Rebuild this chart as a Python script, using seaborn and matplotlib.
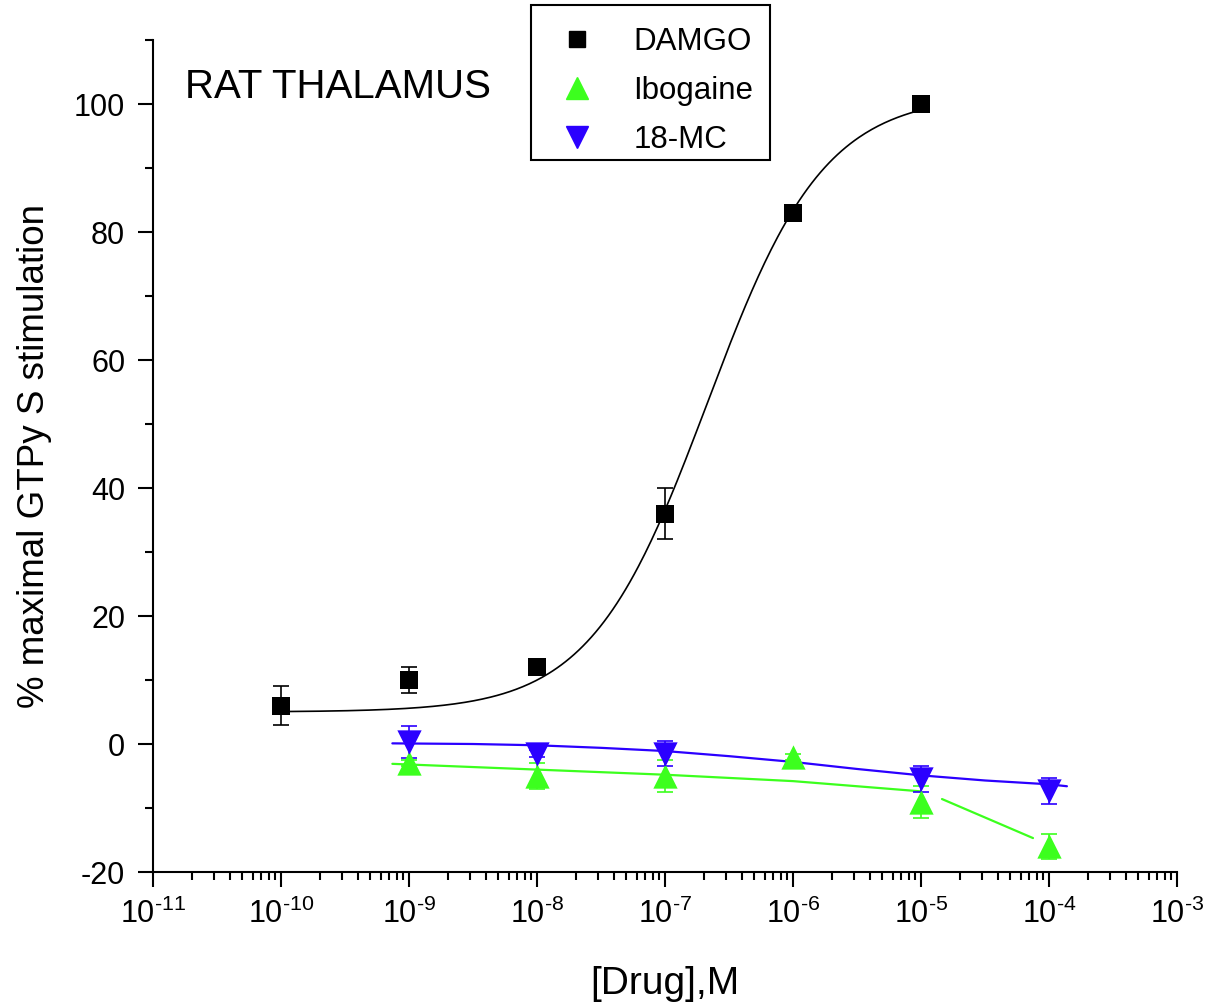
import numpy as np
import pandas as pd
import matplotlib
matplotlib.use("Agg")
import matplotlib.pyplot as plt
from matplotlib.lines import Line2D
from matplotlib.patches import Rectangle
from matplotlib.ticker import LogLocator, MultipleLocator, NullFormatter, FuncFormatter
import seaborn as sns

# data
damgo_x = [1e-10, 1e-9, 1e-8, 1e-7, 1e-6, 1e-5]
damgo_y = [6, 10, 12, 36, 83, 100]
damgo_err = [3, 2, 0.5, 4, 0.5, 0.5]

ibo_x = [1e-9, 1e-8, 1e-7, 1e-6, 1e-5, 1e-4]
ibo_y = [-3, -5, -5, -2, -9, -16]
ibo_err = [0.5, 2, 2.5, 0.5, 2.5, 2]

mc_x = [1e-9, 1e-8, 1e-7, 1e-5, 1e-4]
mc_y = [0.3, -1.5, -1.5, -5.5, -7.3]
mc_err = [2.5, 0.5, 2, 2, 2]

# DAMGO sigmoidal fit (bottom, top, logEC50, hill), drawn 1e-10 .. 1e-5
damgo_fit = dict(bottom=5.0, top=101.5, logec50=-6.67, hill=0.95)
damgo_fit_range = (-10, -5)

# 18-MC fit line (log10 conc, %)
mc_fit_logx = [-9.13, -8.5, -8.0, -7.5, -7.0, -6.5, -6.0, -5.5, -5.0, -4.5, -4.0, -3.86]
mc_fit_y = [0.1, 0.0, -0.2, -0.6, -1.1, -1.9, -2.8, -3.9, -4.9, -5.7, -6.3, -6.6]

# Ibogaine fit line + the extra connecting segment
ibo_fit_logx = [-9.13, -8.0, -7.0, -6.0, -5.5, -5.0]
ibo_fit_y = [-3.1, -4.0, -4.8, -5.8, -6.6, -7.4]
ibo_seg_logx = [-4.836, -4.125]
ibo_seg_y = [-8.6, -14.7]

labels = ["DAMGO", "Ibogaine", "18-MC"]
colors = {"DAMGO": "#000000", "Ibogaine": "#3CFF1E", "18-MC": "#2B00FF"}
markers = {"DAMGO": "s", "Ibogaine": "^", "18-MC": "v"}
msize = {"DAMGO": 13, "Ibogaine": 17.5, "18-MC": 17.5}

sns.set_theme(style="ticks")
plt.rcParams["font.family"] = ["Liberation Sans", "DejaVu Sans"]
plt.rcParams["mathtext.fontset"] = "custom"
plt.rcParams["mathtext.rm"] = "Liberation Sans"
plt.rcParams["mathtext.it"] = "Liberation Sans:italic"
plt.rcParams["axes.unicode_minus"] = False
plt.rcParams["text.color"] = "black"
plt.rcParams["axes.labelcolor"] = "black"

fig = plt.figure(figsize=(12.07, 10.05), dpi=100)
ax = fig.add_axes([153 / 1207, 1 - 872 / 1005, (1177 - 153) / 1207, (872 - 40) / 1005])

# fitted curves
xs = np.linspace(*damgo_fit_range, 300)
p = damgo_fit
ys = p["bottom"] + (p["top"] - p["bottom"]) / (1 + 10 ** ((p["logec50"] - xs) * p["hill"]))
fits = pd.concat([
    pd.DataFrame({"x": 10 ** xs, "y": ys, "drug": "DAMGO", "part": "a"}),
    pd.DataFrame({"x": 10 ** np.array(ibo_fit_logx), "y": ibo_fit_y, "drug": "Ibogaine", "part": "a"}),
    pd.DataFrame({"x": 10 ** np.array(ibo_seg_logx), "y": ibo_seg_y, "drug": "Ibogaine", "part": "b"}),
    pd.DataFrame({"x": 10 ** np.array(mc_fit_logx), "y": mc_fit_y, "drug": "18-MC", "part": "a"}),
])
for (drug, part), g in fits.groupby(["drug", "part"], sort=False):
    sns.lineplot(data=g, x="x", y="y", color=colors[drug], ax=ax,
                 lw=1.2 if drug == "DAMGO" else 1.6, sort=False, legend=False, zorder=2)

# points with error bars
pts = {
    "DAMGO": (damgo_x, damgo_y, damgo_err),
    "Ibogaine": (ibo_x, ibo_y, ibo_err),
    "18-MC": (mc_x, mc_y, mc_err),
}
for drug in ["DAMGO", "Ibogaine", "18-MC"]:
    x, y, e = pts[drug]
    ax.errorbar(x, y, yerr=e, fmt="none", ecolor=colors[drug], elinewidth=1.2,
                capsize=6, capthick=1.2, zorder=3)
    df = pd.DataFrame({"x": x, "y": y})
    sns.scatterplot(data=df, x="x", y="y", marker=markers[drug], color=colors[drug],
                    s=msize[drug] ** 2, linewidth=0, ax=ax, legend=False, zorder=4)

ax.set_xscale("log")
ax.set_xlim(1e-11, 1e-3)
ax.set_ylim(-20, 110)
ax.xaxis.set_major_locator(LogLocator(base=10, numticks=20))
ax.xaxis.set_major_formatter(FuncFormatter(
    lambda v, pos: r"$\mathdefault{10^{\text{-%d}}}$" % round(-np.log10(v))))
ax.xaxis.set_minor_locator(LogLocator(base=10, subs=np.arange(2, 10), numticks=200))
ax.xaxis.set_minor_formatter(NullFormatter())
ax.yaxis.set_minor_locator(MultipleLocator(10))
ax.set_yticks([-20, 0, 20, 40, 60, 80, 100])

for s in ["top", "right"]:
    ax.spines[s].set_visible(False)
for s in ["left", "bottom"]:
    ax.spines[s].set_linewidth(1.5)
    ax.spines[s].set_color("black")
ax.tick_params(which="major", direction="out", length=11, width=1.5, labelsize=22,
               color="black", labelcolor="black")
ax.tick_params(axis="y", which="major", pad=9)
ax.tick_params(axis="x", which="major", pad=8)
ax.tick_params(which="minor", direction="out", length=6, width=1.5, color="black")

ax.set_xlabel("[Drug],M", fontsize=28, labelpad=26)
ax.set_ylabel("% maximal GTPy S stimulation", fontsize=26.5, labelpad=16)
ax.grid(False)

fig.text(185 / 1207, 1 - 98 / 1005, "RAT THALAMUS", fontsize=29, va="baseline", ha="left")

# legend: frame drawn as its own box, entries placed inside
fig.patches.append(Rectangle((531 / 1207, 1 - 160 / 1005), 239 / 1207, 155 / 1005,
                             transform=fig.transFigure, fill=False, lw=1.5, ec="black"))
handles = [Line2D([], [], ls="none", marker=markers[k], color=colors[k],
                  markersize=11 if k == "DAMGO" else 16) for k in labels]
fig.legend(handles, labels, loc="upper left", bbox_to_anchor=(546 / 1207, 1 - 27 / 1005),
           bbox_transform=fig.transFigure, borderaxespad=0, borderpad=0, fontsize=22.5,
           frameon=False, handlelength=2.0, handletextpad=0.8, labelspacing=0.6)

fig.savefig("out.png", dpi=100)
